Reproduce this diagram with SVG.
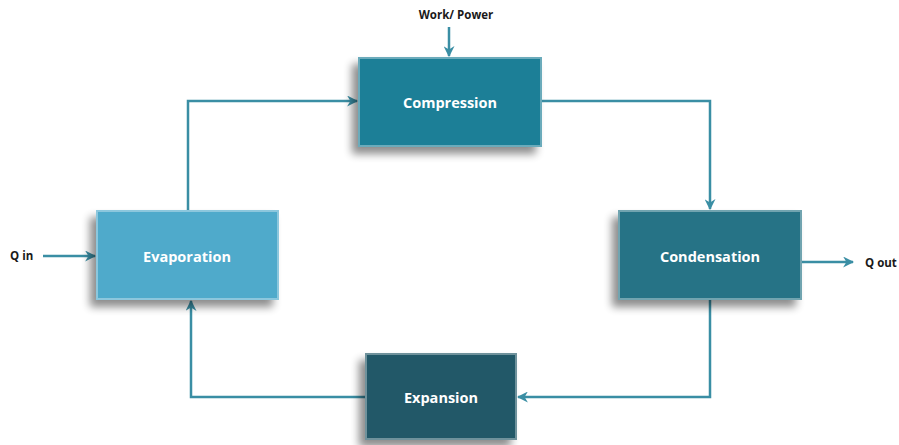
<svg xmlns="http://www.w3.org/2000/svg" width="899" height="445" viewBox="0 0 899 445">
  <style>
    .box-label { font-family: "Open Sans", "Liberation Sans", sans-serif; font-weight: bold; font-size: 14.5px; fill: #ffffff; text-anchor: middle; dominant-baseline: central; }
    .side-label { font-family: "Open Sans", "Liberation Sans", sans-serif; font-weight: bold; font-size: 11.5px; fill: #1a1a1a; dominant-baseline: central; }
    .wire { fill: none; stroke: #3a8ea4; stroke-width: 2.5; }
    .bevel { fill: none; stroke: #ffffff; stroke-opacity: 0.35; stroke-width: 2; }
  </style>
  <defs>
    <filter id="shadow" x="-20%" y="-20%" width="140%" height="150%">
      <feGaussianBlur in="SourceAlpha" stdDeviation="4"/>
      <feOffset dx="-6" dy="7" result="b"/>
      <feComponentTransfer><feFuncA type="linear" slope="0.45"/></feComponentTransfer>
      <feMerge><feMergeNode/><feMergeNode in="SourceGraphic"/></feMerge>
    </filter>
    <marker id="arrow" viewBox="0 0 10 10" refX="9" refY="5" markerWidth="4.4" markerHeight="4.4" orient="auto-start-reverse" markerUnits="strokeWidth">
      <path d="M0,0 L10,5 L0,10 L3,5 z" fill="#3a8ea4"/>
    </marker>
  </defs>

  <rect width="899" height="445" fill="#ffffff"/>

  <!-- flow lines between the process stages -->
  <g id="connectors">
    <path class="wire" d="M449,27 V56" marker-end="url(#arrow)"/>
    <path class="wire" d="M188,210 V101 H357" marker-end="url(#arrow)"/>
    <path class="wire" d="M542,101 H710 V209" marker-end="url(#arrow)"/>
    <path class="wire" d="M710,300 V397 H518" marker-end="url(#arrow)"/>
    <path class="wire" d="M365,397 H191 V301" marker-end="url(#arrow)"/>
    <path class="wire" d="M43,256 H95" marker-end="url(#arrow)"/>
    <path class="wire" d="M802,262 H853" marker-end="url(#arrow)"/>
  </g>

  <g id="compression">
    <rect x="358" y="57" width="184" height="90" fill="#1b7f97" filter="url(#shadow)"/>
    <rect x="359" y="58" width="182" height="88" class="bevel"/>
    <text x="450" y="102" class="box-label">Compression</text>
  </g>

  <g id="evaporation">
    <rect x="96" y="210" width="183" height="90" fill="#4faacb" filter="url(#shadow)"/>
    <rect x="97" y="211" width="181" height="88" class="bevel"/>
    <text x="187" y="256" class="box-label">Evaporation</text>
  </g>

  <g id="condensation">
    <rect x="618" y="210" width="184" height="90" fill="#277386" filter="url(#shadow)"/>
    <rect x="619" y="211" width="182" height="88" class="bevel"/>
    <text x="710" y="256" class="box-label">Condensation</text>
  </g>

  <g id="expansion">
    <rect x="365" y="353" width="152" height="87" fill="#215867" filter="url(#shadow)"/>
    <rect x="366" y="354" width="150" height="85" class="bevel"/>
    <text x="441" y="397" class="box-label">Expansion</text>
  </g>

  <g id="work-input">
    <text x="456" y="14" class="side-label" text-anchor="middle">Work/ Power</text>
  </g>
  <g id="heat-in">
    <text x="10" y="255" class="side-label">Q in</text>
  </g>
  <g id="heat-out">
    <text x="865" y="262" class="side-label">Q out</text>
  </g>
</svg>
